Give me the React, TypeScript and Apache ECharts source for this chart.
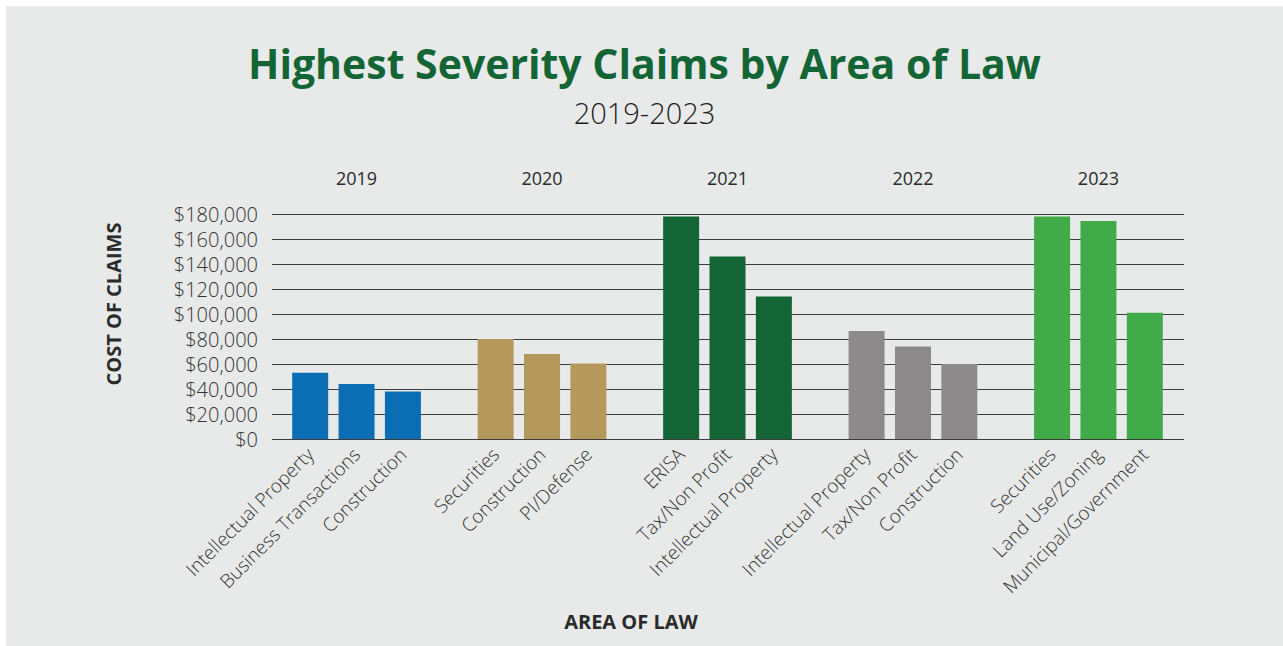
import React, { useEffect, useRef } from "react";
import * as echarts from "echarts";

const years = ["2019", "2020", "2021", "2022", "2023"];
const areas2019 = ["Intellectual Property", "Business Transactions", "Construction"];
const values2019 = [53000, 44000, 38000];
const areas2020 = ["Securities", "Construction", "PI/Defense"];
const values2020 = [80000, 68000, 60500];
const areas2021 = ["ERISA", "Tax/Non Profit", "Intellectual Property"];
const values2021 = [178000, 146000, 114000];
const areas2022 = ["Intellectual Property", "Tax/Non Profit", "Construction"];
const values2022 = [86500, 74000, 60000];
const areas2023 = ["Securities", "Land Use/Zoning", "Municipal/Government"];
const values2023 = [178000, 174500, 101000];
const yTicks = [0, 20000, 40000, 60000, 80000, 100000, 120000, 140000, 160000, 180000];

const groupAreas = [areas2019, areas2020, areas2021, areas2022, areas2023];
const groupValues = [values2019, values2020, values2021, values2022, values2023];
const groupColors = ["#0b6db3", "#b5985b", "#136535", "#8c8a8a", "#41ab4a"];

const FONT = "'Open Sans', Lato, sans-serif";

export default function App() {
  const ref = useRef<HTMLDivElement>(null);

  useEffect(() => {
    if (!ref.current) return;
    const chart = echarts.init(ref.current, undefined, { renderer: "svg" });

    const slotKeys: string[] = [];
    const slotLabels: string[] = [];
    const slotYears: string[] = [];
    const barData: any[] = [];
    groupAreas.forEach((areas, g) => {
      areas.forEach((a, i) => {
        slotKeys.push(`${years[g]}-${i}`);
        slotLabels.push(a);
        slotYears.push(i === 1 ? years[g] : "");
        barData.push({ value: groupValues[g][i], itemStyle: { color: groupColors[g] } });
      });
      if (g < groupAreas.length - 1) {
        slotKeys.push(`gap-${g}`);
        slotLabels.push("");
        slotYears.push("");
        barData.push("-");
      }
    });

    const yMax = yTicks[yTicks.length - 1];
    const yInterval = yTicks[1] - yTicks[0];

    chart.setOption({
      animation: false,
      backgroundColor: "#e8eae9",
      textStyle: { fontFamily: FONT },
      graphic: [
        {
          type: "text",
          x: 638.5,
          y: 57,
          style: {
            text: "Highest Severity Claims by Area of Law",
            fill: "#146536",
            font: `bold 41px ${FONT}`,
            align: "center",
            verticalAlign: "middle",
          },
        },
        {
          type: "text",
          x: 638.5,
          y: 106,
          style: {
            text: "2019-2023",
            fill: "#1e1e1e",
            font: `300 29px ${FONT}`,
            align: "center",
            verticalAlign: "middle",
          },
        },
        {
          type: "text",
          x: 107,
          y: 298,
          rotation: Math.PI / 2,
          style: {
            text: "COST OF CLAIMS",
            fill: "#2a2a2a",
            font: `bold 20px ${FONT}`,
            align: "center",
            verticalAlign: "middle",
          },
        },
        {
          type: "text",
          x: 625,
          y: 615,
          style: {
            text: "AREA OF LAW",
            fill: "#2a2a2a",
            font: `bold 20px ${FONT}`,
            align: "center",
            verticalAlign: "middle",
          },
        },
      ],
      grid: [
        { left: 266, right: 99, top: 208, bottom: 207, containLabel: false },
        { left: 281, right: 115, top: 208, bottom: 207, containLabel: false },
      ],
      xAxis: [
        { type: "category", gridIndex: 0, show: false, data: slotKeys },
        {
          type: "category",
          gridIndex: 1,
          data: slotKeys,
          position: "bottom",
          axisLine: { show: false },
          axisTick: { show: false },
          axisLabel: {
            interval: 0,
            rotate: 45,
            margin: 12,
            fontSize: 19,
            fontWeight: 300,
            color: "#333",
            fontFamily: FONT,
            formatter: (_v: string, i: number) => slotLabels[i],
          },
        },
        {
          type: "category",
          gridIndex: 1,
          data: slotKeys,
          position: "top",
          axisLine: { show: false },
          axisTick: { show: false },
          axisLabel: {
            interval: 0,
            margin: 27,
            fontSize: 18,
            fontWeight: 400,
            color: "#2a2a2a",
            fontFamily: FONT,
            formatter: (_v: string, i: number) => slotYears[i],
          },
        },
      ],
      yAxis: [
        {
          type: "value",
          gridIndex: 0,
          min: 0,
          max: yMax,
          interval: yInterval,
          axisLine: { show: false },
          axisTick: { show: false },
          splitLine: { show: true, lineStyle: { color: "#3c3c3c", width: 1 } },
          axisLabel: {
            margin: 14,
            fontSize: 20,
            fontWeight: 300,
            color: "#333",
            fontFamily: FONT,
            formatter: (v: number) => "$" + v.toLocaleString("en-US"),
          },
        },
        {
          type: "value",
          gridIndex: 1,
          min: 0,
          max: yMax,
          interval: yInterval,
          show: false,
          splitLine: { show: false },
        },
      ],
      series: [
        {
          type: "bar",
          xAxisIndex: 1,
          yAxisIndex: 1,
          barWidth: 36,
          data: barData,
        },
      ],
    });

    return () => chart.dispose();
  }, []);

  return (
    <div style={{ position: "fixed", left: 0, top: 0, width: 1283, height: 646, background: "#ffffff" }}>
      <div
        ref={ref}
        style={{ position: "absolute", left: 6, top: 6, width: 1277, height: 640, background: "#e8eae9" }}
      />
    </div>
  );
}
